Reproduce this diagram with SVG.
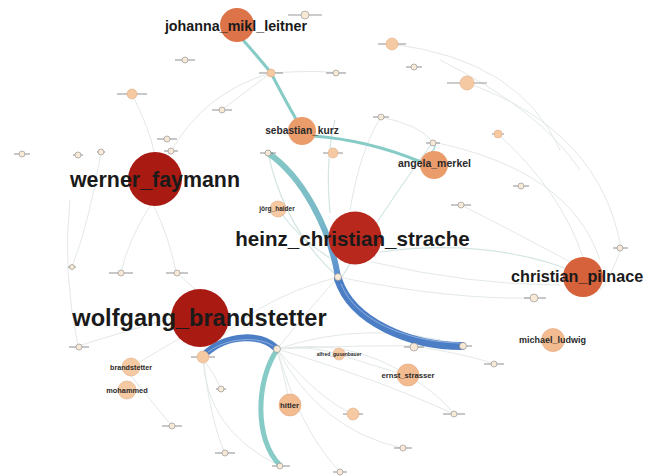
<svg xmlns="http://www.w3.org/2000/svg" width="645" height="476" viewBox="0 0 645 476">
  <defs>
    <linearGradient id="tealToBlue" gradientUnits="userSpaceOnUse" x1="268" y1="153" x2="338" y2="277">
      <stop offset="0" stop-color="#86c9c6"/>
      <stop offset="0.6" stop-color="#78b8c8"/>
      <stop offset="1" stop-color="#5a8fcf"/>
    </linearGradient>
  </defs>
  <style>
    .faint { fill: none; stroke: #e2e9e8; stroke-width: 1; }
    .soft { fill: none; stroke: #d3e6e4; stroke-width: 1.2; }
    .teal { fill: none; stroke: #86cbc6; stroke-linecap: round; }
    .blue { fill: none; stroke: #4c7ec6; stroke-linecap: round; }
    .hl { fill: none; stroke: #9dbbe6; stroke-width: 0.8; }
    .big { font-family: "Liberation Sans", Arial, sans-serif; font-weight: bold; fill: #1a1a1a; text-anchor: middle; }
    .sm { font-family: "Liberation Sans", Arial, sans-serif; font-weight: bold; fill: #2a2a2a; text-anchor: middle; }
    .dot { fill: #f8e8d6; stroke: #8a8a8a; stroke-width: 0.6; }
    .tag { stroke: #707070; stroke-width: 1.1; opacity: 0.7; }
    .n-dark { fill: #a81a12; }
    .n-red { fill: #b8281c; }
    .n-orange { fill: #dd7349; }
    .n-coral { fill: #d6623b; }
    .n-mid { fill: #eb9c6b; }
    .n-light { fill: #f3bb90; stroke: #e3a57a; stroke-width: 0.6; }
    .n-pale { fill: #f5c9a2; stroke: #e0ad85; stroke-width: 0.6; }
  </style>

  <rect width="645" height="476" fill="#ffffff"/>

  <g id="connectors">
    <!-- faint background links -->
    <path class="faint" d="M171,151 Q205,92 271,73"/>
    <path class="faint" d="M222,110 Q250,88 271,73"/>
    <path class="faint" d="M271,73 Q320,70 336,73"/>
    <path class="faint" d="M132,94 Q150,130 154,152"/>
    <path class="faint" d="M101,152 Q90,220 72,267"/>
    <path class="faint" d="M70,200 Q62,270 78,346"/>
    <path class="faint" d="M154,206 Q170,240 176,272"/>
    <path class="faint" d="M150,206 Q128,240 121,273"/>
    <path class="faint" d="M176,272 Q190,285 196,290"/>
    <path class="faint" d="M78,346 Q130,330 172,318"/>
    <path class="faint" d="M131,367 Q160,350 180,338"/>
    <path class="faint" d="M172,426 Q150,400 131,376"/>
    <path class="faint" d="M433,142 Q570,170 600,260"/>
    <path class="faint" d="M467,83 Q600,130 621,248"/>
    <path class="faint" d="M392,44 Q520,60 560,150"/>
    <path class="faint" d="M440,60 Q540,110 580,170"/>
    <path class="faint" d="M498,134 Q560,190 583,257"/>
    <path class="faint" d="M381,117 Q420,125 433,142"/>
    <path class="faint" d="M621,248 Q610,280 600,290"/>
    <path class="soft" d="M380,252 Q480,238 565,268"/>
    <path class="faint" d="M338,277 Q450,300 535,298"/>
    <path class="faint" d="M372,262 Q470,285 560,285"/>
    <path class="faint" d="M461,205 Q530,240 570,262"/>
    <path class="soft" d="M340,280 Q390,200 433,142"/>
    <path class="soft" d="M330,213 Q325,160 335,120"/>
    <path class="soft" d="M268,153 Q285,230 338,277"/>
    <path class="soft" d="M278,209 Q300,240 330,258"/>
    <path class="faint" d="M350,210 Q360,150 381,117"/>
    <path class="faint" d="M338,277 Q300,320 277,349"/>
    <path class="faint" d="M338,277 Q250,300 203,356"/>
    <path class="faint" d="M277,349 Q370,318 463,346"/>
    <path class="faint" d="M277,349 Q360,345 414,346"/>
    <path class="faint" d="M277,349 Q310,345 338,354"/>
    <path class="faint" d="M277,349 Q350,338 407,375"/>
    <path class="faint" d="M277,349 Q285,380 290,405"/>
    <path class="faint" d="M277,349 Q320,400 353,414"/>
    <path class="faint" d="M277,349 Q380,380 454,414"/>
    <path class="faint" d="M277,349 Q320,430 402,448"/>
    <path class="faint" d="M277,349 Q300,430 340,472"/>
    <path class="faint" d="M203,356 Q205,430 280,466"/>
    <path class="faint" d="M203,356 Q210,420 225,453"/>
    <path class="faint" d="M221,389 Q215,375 206,363"/>
    <path class="faint" d="M407,375 Q440,395 454,414"/>
    <path class="faint" d="M414,346 Q470,355 494,364"/>
    <path class="faint" d="M338,354 Q380,368 400,373"/>

    <!-- weighted links -->
    <path class="teal" stroke-width="3" d="M243,40 Q265,65 271,73 Q285,100 296,119"/>
    <path class="teal" stroke-width="3" d="M313,136 Q368,140 421,162"/>
    <path class="teal" stroke-width="1.5" opacity="0.7" d="M422,160 Q440,148 433,142"/>
    <path fill="none" stroke="url(#tealToBlue)" stroke-width="6" stroke-linecap="round" d="M268,153 C302,176 330,228 338,277"/>
    <path class="blue" stroke-width="8" d="M338,279 C352,322 410,346 462,346"/>
    <path class="hl" d="M341,284 C356,322 410,342 460,343"/>
    <path class="blue" stroke-width="7" d="M205,354 C228,333 262,334 276,348"/>
    <path class="hl" d="M208,352 C230,336 260,337 273,346"/>
    <path class="teal" stroke-width="5" d="M277,350 C256,380 254,440 280,465"/>
  </g>

  <!-- minor nodes: small circle with a short caption stroke -->
  <g id="n-small-01"><path class="tag" d="M175,60 H195"/><circle class="dot" cx="185" cy="60" r="3"/></g>
  <g id="n-small-02"><path class="tag" d="M117,94 H147"/><circle class="n-pale" cx="132" cy="94" r="5"/></g>
  <g id="n-small-03"><path class="tag" d="M157,139 H177"/><circle class="dot" cx="167" cy="139" r="3"/></g>
  <g id="n-small-04"><path class="tag" d="M164,151 H178"/><circle class="dot" cx="171" cy="151" r="3"/></g>
  <g id="n-small-05"><path class="tag" d="M14,154 H30"/><circle class="dot" cx="22" cy="154" r="3"/></g>
  <g id="n-small-06"><path class="tag" d="M73,155 H83"/><circle class="dot" cx="78" cy="155" r="3"/></g>
  <g id="n-small-07"><path class="tag" d="M97,152 H105"/><circle class="dot" cx="101" cy="152" r="3"/></g>
  <g id="n-small-08"><path class="tag" d="M288,15 H322"/><circle class="dot" cx="305" cy="15" r="4"/></g>
  <g id="n-small-09"><path class="tag" d="M259,73 H283"/><circle class="n-pale" cx="271" cy="73" r="4"/></g>
  <g id="n-small-10"><path class="tag" d="M326,73 H346"/><circle class="dot" cx="336" cy="73" r="3"/></g>
  <g id="n-small-11"><path class="tag" d="M378,44 H406"/><circle class="n-pale" cx="392" cy="44" r="6"/></g>
  <g id="n-small-12"><path class="tag" d="M406,67 H422"/><circle class="dot" cx="414" cy="67" r="3"/></g>
  <g id="n-small-13"><path class="tag" d="M212,110 H232"/><circle class="dot" cx="222" cy="110" r="3"/></g>
  <g id="n-small-14"><path class="tag" d="M373,117 H389"/><circle class="dot" cx="381" cy="117" r="3"/></g>
  <g id="n-small-15"><path class="tag" d="M260,153 H276"/><circle class="dot" cx="268" cy="153" r="3"/></g>
  <g id="n-small-16"><path class="tag" d="M323,153 H343"/><circle class="n-pale" cx="333" cy="153" r="5"/></g>
  <g id="n-small-17"><path class="tag" d="M447,83 H487"/><circle class="n-pale" cx="467" cy="83" r="7"/></g>
  <g id="n-small-18"><path class="tag" d="M492,134 H504"/><circle class="n-pale" cx="498" cy="134" r="4"/></g>
  <g id="n-small-19"><path class="tag" d="M426,143 H440"/><circle class="dot" cx="433" cy="143" r="3"/></g>
  <g id="n-small-20"><path class="tag" d="M513,186 H529"/><circle class="dot" cx="521" cy="186" r="3"/></g>
  <g id="n-small-21"><path class="tag" d="M451,205 H471"/><circle class="dot" cx="461" cy="205" r="3"/></g>
  <g id="n-small-22"><path class="tag" d="M613,248 H628"/><circle class="dot" cx="620" cy="248" r="3"/></g>
  <g id="n-small-23"><path class="tag" d="M524,298 H546"/><circle class="dot" cx="534" cy="298" r="4"/></g>
  <g id="n-small-24"><path class="tag" d="M68,267 H76"/><circle class="dot" cx="72" cy="267" r="2.5"/></g>
  <g id="n-small-25"><path class="tag" d="M109,273 H133"/><circle class="dot" cx="121" cy="273" r="3"/></g>
  <g id="n-small-26"><path class="tag" d="M166,273 H188"/><circle class="dot" cx="177" cy="273" r="3"/></g>
  <g id="n-small-27"><path class="tag" d="M69,347 H89"/><circle class="dot" cx="79" cy="347" r="3"/></g>
  <g id="n-small-28"><path class="tag" d="M162,426 H182"/><circle class="dot" cx="172" cy="426" r="3"/></g>
  <g id="n-small-29"><path class="tag" d="M191,357 H215"/><circle class="n-pale" cx="203" cy="357" r="6"/></g>
  <g id="n-small-30"><circle class="dot" cx="277" cy="349" r="3.5"/></g>
  <g id="n-small-31"><circle class="dot" cx="338" cy="277" r="3.5"/></g>
  <g id="n-small-32"><path class="tag" d="M216,389 H226"/><circle class="dot" cx="221" cy="389" r="3"/></g>
  <g id="n-small-33"><path class="tag" d="M215,453 H235"/><circle class="dot" cx="225" cy="453" r="3"/></g>
  <g id="n-small-34"><path class="tag" d="M272,466 H290"/><circle class="dot" cx="280" cy="466" r="3"/></g>
  <g id="n-small-35"><path class="tag" d="M333,472 H347"/><circle class="dot" cx="340" cy="472" r="3"/></g>
  <g id="n-small-36"><path class="tag" d="M343,414 H363"/><circle class="n-pale" cx="353" cy="414" r="6"/></g>
  <g id="n-small-37"><path class="tag" d="M443,414 H465"/><circle class="dot" cx="454" cy="414" r="3"/></g>
  <g id="n-small-38"><path class="tag" d="M394,448 H412"/><circle class="dot" cx="403" cy="448" r="3"/></g>
  <g id="n-small-39"><path class="tag" d="M404,347 H424"/><circle class="dot" cx="414" cy="347" r="4"/></g>
  <g id="n-small-40"><path class="tag" d="M458,346 H472"/><circle class="dot" cx="463" cy="346" r="3.5"/></g>
  <g id="n-small-41"><path class="tag" d="M484,364 H504"/><circle class="dot" cx="494" cy="364" r="3"/></g>

  <!-- labelled nodes -->
  <g id="n-joerg-haider"><circle class="n-pale" cx="278" cy="209" r="8"/><text class="sm" x="277" y="211" font-size="6.5" font-weight="normal">jörg_haider</text></g>
  <g id="n-alfred-gusenbauer"><circle class="n-pale" cx="339" cy="354" r="6"/><text class="sm" x="339" y="356" font-size="5" font-weight="normal">alfred_gusenbauer</text></g>
  <g id="n-brandstetter"><circle class="n-pale" cx="131" cy="367" r="9"/><text class="sm" x="131" y="369.5" font-size="7.2">brandstetter</text></g>
  <g id="n-mohammed"><circle class="n-pale" cx="127" cy="390" r="9"/><text class="sm" x="127" y="392.5" font-size="7.4">mohammed</text></g>
  <g id="n-hitler"><circle class="n-light" cx="290" cy="405" r="11"/><text class="sm" x="289.5" y="407.5" font-size="7.8">hitler</text></g>
  <g id="n-ernst-strasser"><circle class="n-light" cx="408" cy="375" r="11"/><text class="sm" x="408" y="377.5" font-size="7.7">ernst_strasser</text></g>
  <g id="n-michael-ludwig"><circle class="n-light" cx="553" cy="340" r="11.5"/><text class="sm" x="552.5" y="343" font-size="9">michael_ludwig</text></g>
  <g id="n-angela-merkel"><circle class="n-mid" cx="434" cy="165" r="14"/><text class="sm" x="434.5" y="167" font-size="10.5">angela_merkel</text></g>
  <g id="n-sebastian-kurz"><circle class="n-mid" cx="302" cy="131" r="14"/><text class="sm" x="302" y="134" font-size="10.2">sebastian_kurz</text></g>
  <g id="n-johanna-mikl-leitner"><circle class="n-orange" cx="237" cy="25" r="17"/><text class="big" x="236" y="31" font-size="14.3">johanna_mikl_leitner</text></g>
  <g id="n-christian-pilnacek"><circle class="n-coral" cx="583" cy="277" r="20"/><text class="big" x="511" y="282" font-size="16.2" style="text-anchor:start">christian_pilnace</text></g>
  <g id="n-werner-faymann"><circle class="n-dark" cx="155" cy="179" r="27"/><text class="big" x="155" y="187" font-size="21.4">werner_faymann</text></g>
  <g id="n-heinz-christian-strache"><circle class="n-red" cx="355" cy="238" r="26.5"/><text class="big" x="352.5" y="246" font-size="20.6">heinz_christian_strache</text></g>
  <g id="n-wolfgang-brandstetter"><circle class="n-dark" cx="200" cy="318" r="29"/><text class="big" x="199.5" y="326" font-size="23.6">wolfgang_brandstetter</text></g>
</svg>
